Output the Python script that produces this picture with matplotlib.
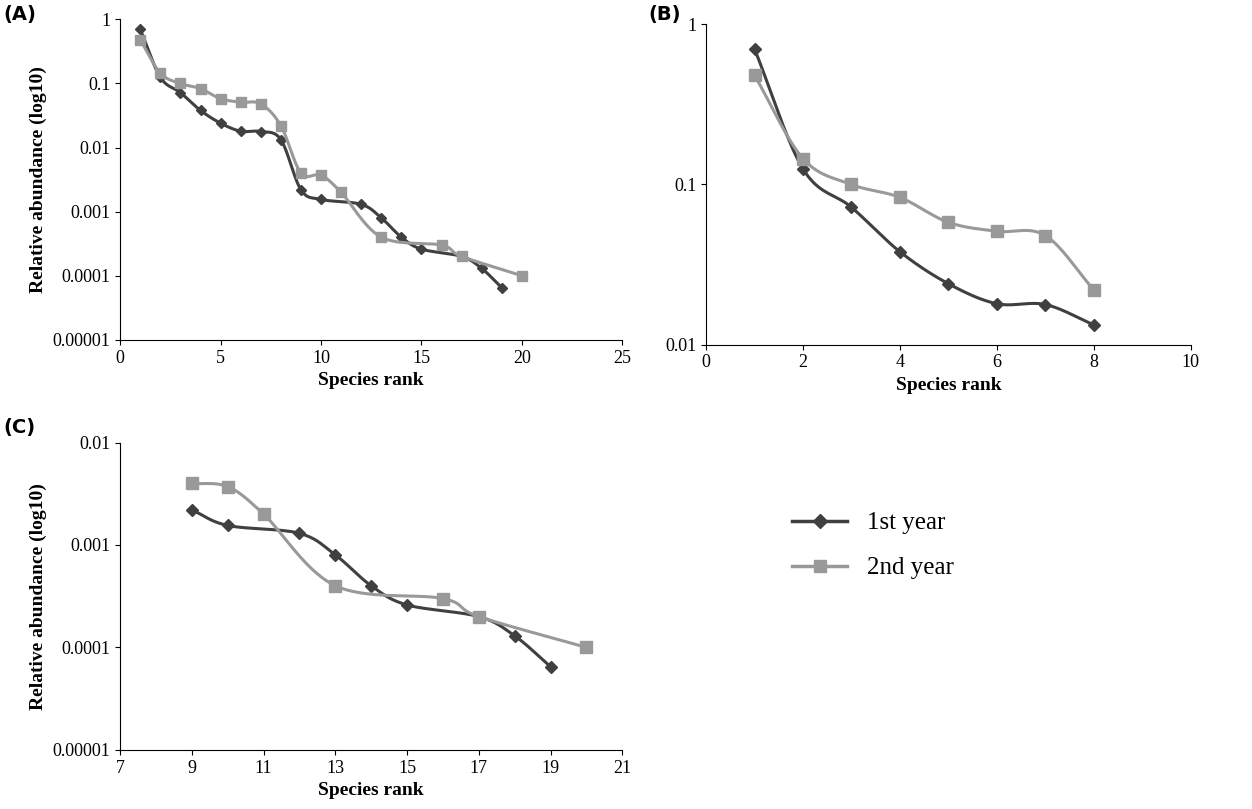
import numpy as np
import matplotlib.pyplot as plt
from matplotlib.ticker import FixedLocator, FixedFormatter, NullLocator
from matplotlib.lines import Line2D

plt.rcParams['font.family'] = ['Liberation Serif', 'DejaVu Serif']

rank_y1 = [1, 2, 3, 4, 5, 6, 7, 8, 9, 10, 12, 13, 14, 15, 17, 18, 19]
abund_y1 = [0.7, 0.125, 0.072, 0.038, 0.024, 0.018, 0.0178, 0.0133, 0.0022,
            0.00155, 0.0013, 0.0008, 0.0004, 0.00026, 0.0002, 0.00013, 0.000065]
rank_y2 = [1, 2, 3, 4, 5, 6, 7, 8, 9, 10, 11, 13, 16, 17, 20]
abund_y2 = [0.48, 0.145, 0.1, 0.083, 0.058, 0.051, 0.048, 0.022, 0.004,
            0.0037, 0.002, 0.0004, 0.0003, 0.0002, 0.0001]

DARK = '#404040'
LIGHT = '#999999'


def smooth(x, y, n=20):
    """Catmull-Rom curve through points (log y) for Excel-like smoothed lines."""
    x = np.asarray(x, float)
    ly = np.log10(y)
    px = np.concatenate([[2 * x[0] - x[1]], x, [2 * x[-1] - x[-2]]])
    py = np.concatenate([[2 * ly[0] - ly[1]], ly, [2 * ly[-1] - ly[-2]]])
    xs, ys = [], []
    t = np.linspace(0, 1, n)
    for i in range(1, len(px) - 2):
        for p, out in ((px, xs), (py, ys)):
            p0, p1, p2, p3 = p[i - 1:i + 3]
            out.extend(0.5 * (2 * p1 + (-p0 + p2) * t
                              + (2 * p0 - 5 * p1 + 4 * p2 - p3) * t ** 2
                              + (-p0 + 3 * p1 - 3 * p2 + p3) * t ** 3))
    return np.array(xs), 10 ** np.array(ys)


def draw(ax, lo, hi, xticks, ylo, yhi, ms=1.0):
    for r, a, c, m, s, lab in ((rank_y1, abund_y1, DARK, 'D', 6, '1st year'),
                               (rank_y2, abund_y2, LIGHT, 's', 8, '2nd year')):
        sel = [(xi, yi) for xi, yi in zip(r, a) if lo <= xi <= hi]
        xs, ys = zip(*sel)
        sx, sy = smooth(xs, ys)
        ax.plot(sx, sy, color=c, lw=2.2, label=lab)
        ax.plot(xs, ys, ls='none', marker=m, ms=s * ms, color=c)
    ax.set_yscale('log')
    ax.set_ylim(ylo, yhi)
    dec = [10.0 ** k for k in range(int(np.log10(ylo)), int(np.log10(yhi)) + 1)]
    ax.yaxis.set_major_locator(FixedLocator(dec))
    ax.yaxis.set_major_formatter(FixedFormatter([('%.5f' % d).rstrip('0').rstrip('.') for d in dec]))
    ax.yaxis.set_minor_locator(NullLocator())
    ax.set_xticks(xticks)
    ax.set_xlim(xticks[0], xticks[-1])
    ax.spines['top'].set_visible(False)
    ax.spines['right'].set_visible(False)
    ax.tick_params(labelsize=13)
    ax.set_xlabel('Species rank', fontsize=14, fontweight='bold')


fig = plt.figure(figsize=(12.52, 8.09), dpi=100)
axA = fig.add_axes([0.096, 0.58, 0.401, 0.396])
axB = fig.add_axes([0.564, 0.574, 0.387, 0.396])
axC = fig.add_axes([0.096, 0.073, 0.401, 0.38])

draw(axA, 1, 20, [0, 5, 10, 15, 20, 25], 1e-5, 1, ms=0.85)
draw(axB, 1, 8, [0, 2, 4, 6, 8, 10], 0.01, 1, ms=1.05)
draw(axC, 9, 20, [7, 9, 11, 13, 15, 17, 19, 21], 1e-5, 0.01, ms=1.05)
axA.set_ylabel('Relative abundance (log10)', fontsize=14, fontweight='bold')
axC.set_ylabel('Relative abundance (log10)', fontsize=14, fontweight='bold')

for t, x, y in (('(A)', 0.003, 0.975), ('(B)', 0.518, 0.975), ('(C)', 0.003, 0.465)):
    fig.text(x, y, t, fontsize=14, fontweight='bold', family='DejaVu Sans')

labels = ['1st year', '2nd year']
handles = [Line2D([], [], color=DARK, lw=2.5, marker='D', ms=7),
           Line2D([], [], color=LIGHT, lw=2.5, marker='s', ms=9)]
fig.legend(handles, labels, loc='upper left', bbox_to_anchor=(0.615, 0.395),
           frameon=False, fontsize=18, handlelength=2.2, labelspacing=0.9)

fig.savefig('out.png', dpi=100)
